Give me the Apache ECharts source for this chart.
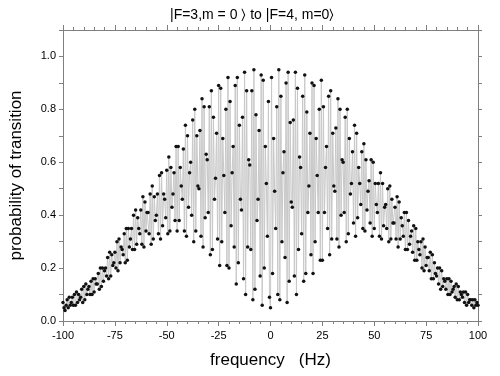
<!DOCTYPE html>
<html>
<head>
<meta charset="utf-8">
<script src="https://cdn.jsdelivr.net/npm/echarts@6/dist/echarts.min.js"></script>
<style>
html,body{margin:0;padding:0;background:#fff}
#main{width:500px;height:376px}
</style>
</head>
<body>
<div id="main"></div>
<script>
// sampling grid of the scan (Hz)
var freqStart=-100
var freqStep=0.5
var xTicks=[-100,-75,-50,-25,0,25,50,75,100]
var yTicks=[0.0,0.2,0.4,0.6,0.8,1.0]

// probability, f = -100 ... -0.5
var probLeft=[
.07,.05,.04,.06,.08,.05,.09,.06,.07,.09,.06,
.10,.06,.11,.07,.10,.08,.09,.12,.07,.13,
.08,.14,.10,.12,.13,.10,.15,.10,.16,.11,
.16,.14,.14,.18,.12,.20,.13,.20,.15,.19,
.20,.17,.24,.16,.26,.17,.25,.21,.22,.26,
.20,.30,.19,.31,.22,.28,.27,.25,.33,.22,
.35,.23,.35,.28,.31,.35,.27,.40,.27,.42,
.29,.39,.35,.33,.42,.29,.47,.28,.45,.34,
.41,.41,.33,.48,.29,.51,.31,.47,.38,.40,
.48,.33,.55,.31,.56,.36,.48,.46,.39,.57,
.33,.62,.34,.58,.43,.48,.56,.38,.66,.34,
.66,.38,.58,.51,.46,.65,.34,.74,.32,.70,
.43,.56,.60,.40,.76,.30,.80,.34,.70,.51,
.50,.72,.32,.84,.28,.81,.39,.63,.61,.41,
.81,.25,.87,.27,.77,.46,.54,.71,.31,.89,
.21,.88,.30,.69,.55,.41,.80,.21,.92,.20,
.83,.36,.56,.66,.28,.89,.14,.92,.22,.74,
.46,.42,.77,.16,.94,.10,.87,.28,.61,.59,
.27,.87,.08,.95,.12,.78,.38,.46,.72,.17,
.93,.06,.91,.20,.66,.52,.32,.83,.09
]
// f = 0 ... 100
var probRight=[
.05,.92,.18,.69,.49,.35,.81,.10,.95,.08,
.85,.30,.56,.64,.24,.90,.07,.94,.15,.75,
.45,.43,.76,.17,.94,.10,.88,.27,.62,.58,
.33,.85,.15,.93,.18,.79,.41,.51,.71,.25,
.90,.18,.89,.30,.69,.55,.41,.80,.23,.91,
.23,.81,.41,.58,.66,.35,.85,.25,.87,.31,
.71,.51,.49,.73,.31,.84,.28,.80,.40,.61,
.60,.41,.77,.30,.80,.33,.69,.48,.52,.64,
.37,.74,.32,.71,.39,.58,.52,.44,.64,.35,
.67,.34,.61,.42,.49,.53,.37,.61,.32,.60,
.35,.52,.44,.41,.52,.32,.56,.31,.52,.36,
.43,.44,.35,.50,.30,.51,.31,.46,.37,.37,
.43,.31,.47,.28,.45,.31,.39,.36,.32,.41,
.27,.41,.27,.38,.29,.32,.34,.26,.36,.23,
.35,.23,.30,.27,.25,.30,.20,.31,.19,.28,
.21,.24,.24,.19,.26,.16,.25,.16,.22,.18,
.17,.20,.14,.20,.12,.19,.13,.16,.15,.12,
.16,.10,.16,.10,.15,.11,.12,.13,.09,.14,
.08,.13,.08,.11,.10,.09,.11,.07,.11,.06,
.10,.07,.08,.08,.06,.08,.05,.08,.06,.07,.06
]

var prob=probLeft.concat(probRight)
var pts=[]
for(var i=0;i<prob.length;i++){
	pts.push([freqStart+i*freqStep,prob[i]])
}

var font='Arial, "Liberation Sans", sans-serif'
var axisGrey='#7f7f7f'
var mychart=echarts.init(document.getElementById('main'))
var option={
	animation:false,
	backgroundColor:'#fff',
	title:{
		text:'|F=3,m = 0 \u232A to |F=4, m=0\u232A',
		left:165,
		top:3,
		textStyle:{fontFamily:font,fontSize:14,fontWeight:'normal',color:'#000'}
	},
	grid:{left:62,right:22,top:30,bottom:55},
	xAxis:[{
		type:'value',
		min:xTicks[0],
		max:xTicks[xTicks.length-1],
		interval:25,
		position:'bottom',
		name:'frequency   (Hz)',
		nameLocation:'middle',
		nameGap:31,
		nameTextStyle:{fontFamily:font,fontSize:17,color:'#000'},
		axisLine:{onZero:false,lineStyle:{color:axisGrey,width:1}},
		axisTick:{length:5,lineStyle:{color:axisGrey}},
		minorTick:{show:true,splitNumber:5,length:3,lineStyle:{color:axisGrey}},
		axisLabel:{fontFamily:font,fontSize:11,color:'#000',margin:9},
		splitLine:{show:false}
	},{
		type:'value',
		min:xTicks[0],
		max:xTicks[xTicks.length-1],
		interval:25,
		position:'top',
		axisLine:{onZero:false,lineStyle:{color:axisGrey,width:1}},
		axisTick:{length:5,lineStyle:{color:axisGrey}},
		minorTick:{show:true,splitNumber:5,length:3,lineStyle:{color:axisGrey}},
		axisLabel:{show:false},
		splitLine:{show:false}
	}],
	yAxis:[{
		type:'value',
		min:0,
		max:1.1,
		interval:0.1,
		position:'left',
		name:'probability of transition',
		nameLocation:'middle',
		nameGap:38,
		nameTextStyle:{fontFamily:font,fontSize:17,color:'#000'},
		axisLine:{show:true,onZero:false,lineStyle:{color:axisGrey,width:1}},
		axisTick:{show:true,length:4,lineStyle:{color:axisGrey}},
		axisLabel:{
			fontFamily:font,fontSize:11,color:'#000',margin:7,
			formatter:function(v){
				for(var j=0;j<yTicks.length;j++){
					if(Math.abs(v-yTicks[j])<1e-6) return yTicks[j].toFixed(1)
				}
				return ''
			}
		},
		splitLine:{show:false}
	},{
		type:'value',
		min:0,
		max:1.1,
		interval:0.1,
		position:'right',
		axisLine:{show:true,onZero:false,lineStyle:{color:axisGrey,width:1}},
		axisTick:{show:true,length:4,lineStyle:{color:axisGrey}},
		axisLabel:{show:false},
		splitLine:{show:false}
	}],
	series:[{
		type:'line',
		data:pts,
		symbol:'circle',
		symbolSize:3.5,
		showAllSymbol:true,
		itemStyle:{color:'#111'},
		lineStyle:{color:'#c8c8c8',width:1}
	}]
}
mychart.setOption(option)
</script>
</body>
</html>
